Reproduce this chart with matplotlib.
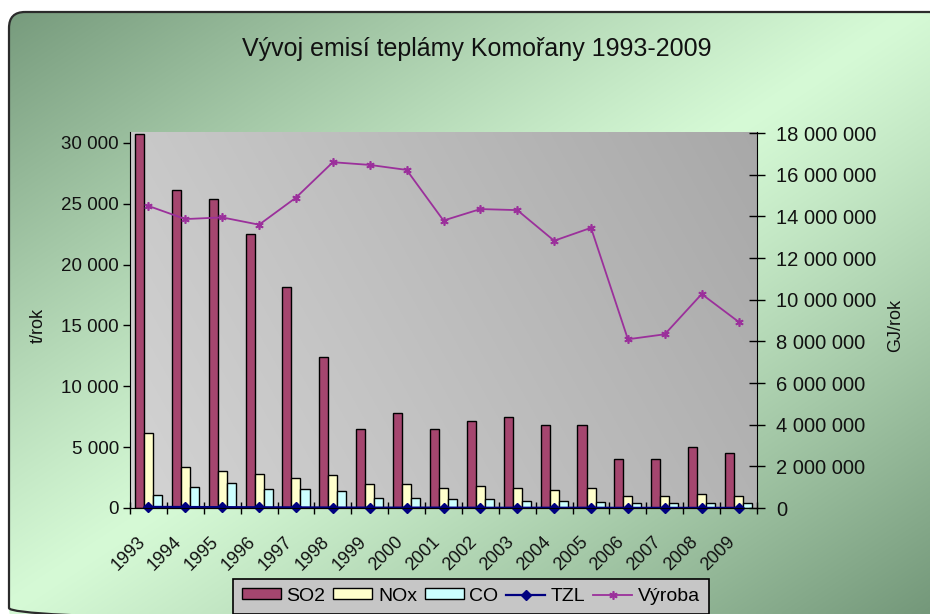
import numpy as np
import matplotlib
matplotlib.use("Agg")
import matplotlib.pyplot as plt
from matplotlib.patches import FancyBboxPatch
from matplotlib.ticker import FuncFormatter, FixedLocator
from matplotlib.transforms import ScaledTranslation

plt.rcParams['font.family'] = ['Liberation Sans', 'DejaVu Sans']

years = ['1993', '1994', '1995', '1996', '1997', '1998', '1999', '2000', '2001',
         '2002', '2003', '2004', '2005', '2006', '2007', '2008', '2009']
so2 = [30700, 26100, 25400, 22500, 18200, 12400, 6460, 7780, 6460,
       7120, 7450, 6800, 6800, 4000, 4000, 4980, 4480]
nox = [6130, 3330, 3020, 2830, 2500, 2700, 2000, 2000, 1680,
       1800, 1680, 1500, 1680, 960, 960, 1180, 960]
co = [1050, 1730, 2060, 1540, 1540, 1380, 860, 860, 720,
      720, 580, 580, 500, 400, 400, 400, 400]
tzl = [90, 80, 70, 60, 50, 40, 30, 30, 30, 20, 20, 20, 20, 10, 10, 10, 10]
vyroba = [14.5e6, 13.87e6, 13.95e6, 13.6e6, 14.9e6, 16.6e6, 16.47e6, 16.23e6, 13.8e6,
          14.35e6, 14.3e6, 12.83e6, 13.45e6, 8.1e6, 8.34e6, 10.27e6, 8.94e6]

W, H = 930, 614
fig = plt.figure(figsize=(W / 100, H / 100), dpi=100)
fig.patch.set_facecolor('white')

# ---- outer rounded frame with diagonal green gradient
bg = fig.add_axes([0, 0, 1, 1], zorder=-10)
bg.set_xlim(0, W)
bg.set_ylim(H, 0)
bg.axis('off')
xx, yy = np.meshgrid(np.linspace(0, 1, 300), np.linspace(0, 1, 200))
u = np.abs(xx + yy - 1.0)
u = np.clip(u, 0, 1) ** 1.1
dark = np.array([0x74, 0x98, 0x7a]) / 255
light = np.array([0xd6, 0xfa, 0xd6]) / 255
img = light[None, None, :] + (dark - light)[None, None, :] * u[..., None]
frame = FancyBboxPatch((9, 12), 936, 612, boxstyle='round,pad=0,rounding_size=16',
                       fc='none', ec='#2b2b2b', lw=1.6, zorder=3)
bg.add_patch(frame)
im = bg.imshow(img, extent=[0, W, H, 0], aspect='auto', zorder=1, interpolation='bilinear')
im.set_clip_path(frame)

# ---- main axes
L, R, T, B = 130, 757, 132, 508
ax = fig.add_axes([L / W, 1 - B / H, (R - L) / W, (B - T) / H])
ax.patch.set_alpha(0)
gx, gy = np.meshgrid(np.linspace(0, 1, 200), np.linspace(0, 1, 100))
g = 0.83 - 0.17 * (0.75 * gx + 0.25 * (1 - gy))
gimg = np.dstack([g, g, g])
ax.imshow(gimg, extent=[0, 1, 0, 1], transform=ax.transAxes, aspect='auto',
          zorder=0, interpolation='bilinear')

x = np.arange(len(years))
w = 0.245
b1 = ax.bar(x - w, so2, w, color='#a5466f', edgecolor='black', lw=1.0, zorder=2, label='SO2')
b2 = ax.bar(x, nox, w, color='#ffffcc', edgecolor='black', lw=1.0, zorder=2, label='NOx')
b3 = ax.bar(x + w, co, w, color='#ccffff', edgecolor='black', lw=1.0, zorder=2, label='CO')
l1, = ax.plot(x, tzl, color='#000080', lw=1.6, marker='D', ms=5.5, zorder=4, label='TZL',
              clip_on=False)

ax.set_xlim(-0.5, len(years) - 0.5)
ax.set_ylim(0, 30900)
ax.set_yticks(np.arange(0, 30001, 5000))
ax.yaxis.set_major_formatter(FuncFormatter(lambda v, p: f"{int(v):,}".replace(',', ' ')))

ax2 = ax.twinx()
ax2.patch.set_alpha(0)
l2, = ax2.plot(x, vyroba, color='#9b309b', lw=1.3, marker=(6, 2, 0), ms=6, mew=1.2,
               zorder=5, label='Výroba')
ax2.set_ylim(0, 18.05e6)
ax2.set_yticks(np.arange(0, 18e6 + 1, 2e6))
ax2.yaxis.set_major_formatter(FuncFormatter(lambda v, p: f"{int(v):,}".replace(',', ' ')))

for a in (ax, ax2):
    a.spines['top'].set_visible(False)
ax2.spines['left'].set_visible(False)
ax.spines['right'].set_visible(False)
ax.spines['left'].set_color('black')
ax2.spines['right'].set_color('black')
ax.spines['bottom'].set_color('black')

ax.tick_params(axis='y', direction='out', length=5, width=1, pad=3, labelsize=13.5,
               colors='black', labelcolor='#111111')
ax2.tick_params(axis='y', direction='inout', length=11, width=1, pad=8, labelsize=14.5,
                colors='black', labelcolor='#111111')

ax.xaxis.set_major_locator(FixedLocator(np.arange(-0.5, len(years), 1.0)))
ax.xaxis.set_minor_locator(FixedLocator(x))
ax.tick_params(axis='x', which='major', direction='inout', length=8, width=1,
               labelbottom=False)
ax.tick_params(axis='x', which='minor', length=0, pad=18, labelsize=13,
               labelcolor='#111111')
ax.set_xticklabels(years, minor=True, rotation=45, ha='right', rotation_mode='anchor')
off = ScaledTranslation(-0.12, 0, fig.dpi_scale_trans)
for lab in ax.xaxis.get_minorticklabels():
    lab.set_transform(lab.get_transform() + off)

fig.text(38 / W, 1 - 325 / H, 't/rok', rotation=90, ha='center', va='center',
         fontsize=13, color='#111111')
fig.text(896 / W, 1 - 325 / H, 'GJ/rok', rotation=90, ha='center', va='center',
         fontsize=13, color='#111111')
fig.text(477 / W, 1 - 49 / H, 'Vývoj emisí teplámy Komořany 1993-2009', ha='center',
         va='center', fontsize=18, color='#111111')

leg = fig.legend([b1, b2, b3, l1, l2], ['SO2', 'NOx', 'CO', 'TZL', 'Výroba'],
                 loc='upper center', bbox_to_anchor=(471 / W, 1 - 579 / H),
                 ncol=5, fontsize=14, frameon=True, fancybox=False, handlelength=2.0,
                 handleheight=0.5, handletextpad=0.3, columnspacing=0.4,
                 borderpad=0.45, borderaxespad=0)
leg.get_frame().set_facecolor('#c6c6c6')
leg.get_frame().set_edgecolor('black')
leg.get_frame().set_linewidth(1.2)
leg.get_frame().set_alpha(1)

fig.savefig('out.png', dpi=100)
